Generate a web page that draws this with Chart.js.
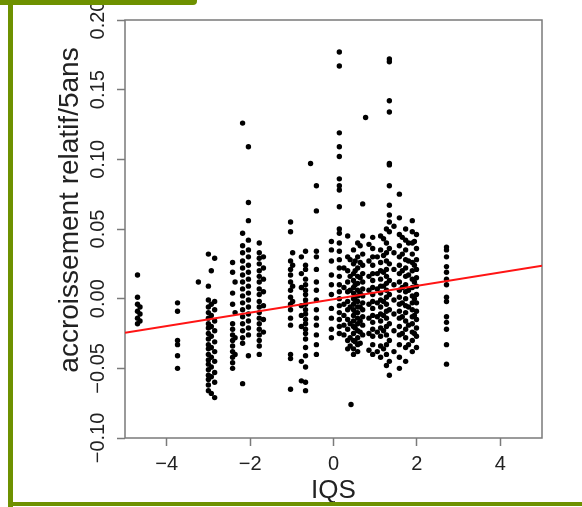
<!DOCTYPE html>
<html lang="fr">

<head>
    <meta charset="UTF-8">
    <title>Accroissement relatif / IQS</title>
    <script src="https://cdn.jsdelivr.net/npm/chart.js"></script>
    <style>
        body {
            margin: 0;
            background: #ffffff;
        }

        .cadre {
            position: relative;
            width: 582px;
            height: 507px;
            overflow: hidden;
        }

        .cadre canvas {
            position: absolute;
            left: 0;
            top: 0;
        }

        .barre-gauche {
            position: absolute;
            left: 8px;
            top: 0;
            width: 5px;
            height: 507px;
            background: #6e9100;
        }

        .barre-haut {
            position: absolute;
            left: 0;
            top: 0;
            width: 197px;
            height: 5px;
            background: #6e9100;
            border-bottom-right-radius: 4px;
        }

        .barre-bas {
            position: absolute;
            left: 8px;
            top: 502px;
            width: 574px;
            height: 4px;
            background: #6e9100;
        }
    </style>
</head>

<body>
    <div class="cadre">
        <canvas id="grafico-iqs" width="582" height="507"></canvas>
        <div class="barre-gauche"></div>
        <div class="barre-haut"></div>
        <div class="barre-bas"></div>
    </div>

<script>
    // colonnes d'IQS et accroissements relatifs
    const colonnesIQS = [
        -4.70, -4.64, -3.74, -3.24, -3.00, -2.93, -2.85, -2.42, -2.36, -2.18,
        -2.04, -1.78, -1.68, -1.03, -0.98, -0.77, -0.67, -0.55, -0.41, -0.05,
        0.14, 0.34, 0.42, 0.48, 0.58, 0.70, 0.77, 0.94, 1.13, 1.27,
        1.34, 1.58, 1.73, 1.89, 1.99, 2.71,
        0.25, 0.40, 0.52, 0.64, 0.85, 1.05, 1.20, 1.45, 1.65, 1.80, 1.94
    ];

    const accroissements = [
        [0.017, 0.001, -0.004, -0.009, -0.014, -0.018],
        [-0.006, -0.011, -0.016],
        [-0.003, -0.009, -0.030, -0.033, -0.041, -0.050],
        [0.012],
        [0.032, 0.009, -0.001, -0.006, -0.010, -0.014, -0.018, -0.021, -0.025, -0.029, -0.033, -0.036, -0.040, -0.044, -0.047, -0.051, -0.055, -0.058, -0.062, -0.066],
        [0.020, -0.004, -0.012, -0.020, -0.027, -0.035, -0.042, -0.049, -0.056, -0.068],
        [0.029, -0.002, -0.008, -0.016, -0.023, -0.031, -0.038, -0.045, -0.053, -0.060, -0.071],
        [0.026, 0.019, 0.004, -0.004, -0.018, -0.022, -0.026, -0.030, -0.034, -0.038, -0.042, -0.046, -0.050],
        [0.012, -0.010, -0.028, -0.040],
        [0.126, 0.047, 0.038, 0.033, 0.027, 0.022, 0.017, 0.012, 0.007, 0.002, -0.003, -0.008, -0.013, -0.018, -0.023, -0.028, -0.032, -0.061],
        [0.109, 0.069, 0.056, 0.042, 0.035, 0.030, 0.024, 0.019, 0.014, 0.009, 0.004, -0.001, -0.006, -0.011, -0.016, -0.021, -0.026, -0.041],
        [0.040, 0.033, 0.029, 0.025, 0.020, 0.016, 0.012, 0.007, 0.003, -0.002, -0.006, -0.010, -0.014, -0.018, -0.022, -0.026, -0.030, -0.034, -0.040],
        [0.030, 0.022, 0.014, 0.005, -0.005, -0.015, -0.024],
        [0.055, 0.048, 0.027, 0.021, 0.017, 0.012, 0.006, 0.001, -0.004, -0.008, -0.014, -0.019, -0.040, -0.043, -0.065],
        [0.033, 0.024, 0.009, -0.002],
        [0.030, 0.018, 0.008, -0.005, -0.012, -0.020, -0.045, -0.059],
        [0.034, 0.024, 0.021, 0.014, 0.010, 0.006, 0.003, -0.001, -0.004, -0.008, -0.011, -0.015, -0.018, -0.022, -0.025, -0.029, -0.035, -0.041, -0.049, -0.060, -0.066],
        [0.097],
        [0.081, 0.063, 0.034, 0.030, 0.021, 0.012, 0.006, -0.001, -0.008, -0.014, -0.019, -0.026, -0.033, -0.040],
        [0.041, 0.035, 0.027, 0.017, 0.010, 0.003, -0.007, -0.014, -0.022, -0.028],
        [0.177, 0.167, 0.119, 0.109, 0.102, 0.086, 0.081, 0.078, 0.066, 0.050, 0.047, 0.040, 0.034, 0.028, 0.022, 0.016, 0.010, 0.005, 0.000, -0.005, -0.010, -0.015, -0.020, -0.025],
        [0.045, 0.030, 0.020, 0.012, 0.005, -0.002, -0.008, -0.015, -0.022, -0.030, -0.036],
        [-0.076],
        [0.035, 0.025, 0.018, 0.013, 0.008, 0.004, 0.000, -0.004, -0.008, -0.012, -0.016, -0.020, -0.025, -0.030, -0.036, -0.040],
        [0.040, 0.030, 0.022, 0.016, 0.011, 0.006, 0.002, -0.002, -0.006, -0.010, -0.014, -0.018, -0.023, -0.028, -0.033, -0.038],
        [0.068, 0.045, 0.032, 0.024, 0.018, 0.012, 0.007, 0.002, -0.003, -0.008, -0.013, -0.019, -0.026],
        [0.130],
        [0.044, 0.036, 0.030, 0.024, 0.018, 0.013, 0.008, 0.003, -0.002, -0.007, -0.012, -0.017, -0.022, -0.027, -0.033, -0.040],
        [0.045, 0.035, 0.026, 0.020, 0.014, 0.009, 0.004, -0.001, -0.006, -0.011, -0.016, -0.021, -0.027, -0.034, -0.042],
        [0.050, 0.040, 0.033, 0.027, 0.021, 0.016, 0.011, 0.006, 0.001, -0.004, -0.009, -0.014, -0.020, -0.026, -0.033, -0.040, -0.048],
        [0.172, 0.170, 0.142, 0.134, 0.097, 0.096, 0.081, 0.067, 0.060, 0.055, 0.048, 0.036, 0.025, 0.013, 0.003, -0.008, -0.018, -0.030, -0.045, -0.055],
        [0.075, 0.058, 0.046, 0.038, 0.030, 0.024, 0.018, 0.012, 0.006, 0.001, -0.004, -0.009, -0.014, -0.020, -0.026, -0.033, -0.042, -0.050],
        [0.050, 0.042, 0.035, 0.028, 0.022, 0.016, 0.010, 0.005, 0.000, -0.005, -0.010, -0.016, -0.022, -0.028, -0.035, -0.045],
        [0.056, 0.048, 0.040, 0.032, 0.026, 0.020, 0.014, 0.008, 0.002, -0.003, -0.008, -0.013, -0.018, -0.024, -0.030, -0.038],
        [0.046, 0.036, 0.028, 0.021, 0.015, 0.009, 0.003, -0.003, -0.009, -0.015, -0.021, -0.027, -0.035],
        [0.037, 0.035, 0.030, 0.023, 0.019, 0.014, 0.010, 0.001, -0.002, -0.013, -0.017, -0.022, -0.033, -0.047],
        [0.022, 0.008, -0.004, -0.012, -0.019, -0.026],
        [0.028, 0.016, 0.006, -0.006, -0.018, -0.028, -0.034],
        [0.027, 0.020, 0.010, -0.001, -0.010, -0.021, -0.031],
        [0.038, 0.026, 0.015, 0.004, -0.006, -0.016, -0.024, -0.032],
        [0.039, 0.027, 0.016, 0.006, -0.004, -0.014, -0.025, -0.037],
        [0.030, 0.018, 0.007, -0.003, -0.013, -0.024, -0.038],
        [0.043, 0.031, 0.019, 0.009, -0.002, -0.012, -0.023, -0.036],
        [0.052, 0.033, 0.021, 0.010, -0.001, -0.011, -0.023, -0.038],
        [0.044, 0.032, 0.020, 0.008, -0.003, -0.013, -0.025],
        [0.040, 0.027, 0.017, 0.006, -0.006, -0.019, -0.033],
        [0.041, 0.024, 0.012, 0.000, -0.012, -0.025]
    ];

    const ticksX = [-4, -2, 0, 2, 4];
    const ticksY = [-0.10, -0.05, 0.00, 0.05, 0.10, 0.15, 0.20];

    // droite de regression (ordonnee a l'origine, pente)
    const ordonneeOrigine = -0.0004;
    const pente = 0.0048;

    const limitesX = [-5, 5];
    const limitesY = [-0.10, 0.20];

    var points = [];
    colonnesIQS.forEach((iqs, i) => {
        accroissements[i].forEach(v => points.push({ x: iqs, y: v }));
    });

    var droite = limitesX.map(x => ({ x: x, y: ordonneeOrigine + pente * x }));

    function formatMoins(v, decimales) {
        if (Math.abs(v) < 1e-9) v = 0;
        return v.toFixed(decimales).replace('-', '\u2212');
    }

    const police = "'Liberation Sans', Arial, sans-serif";

    // cadre du graphique façon R + titre de l'axe y
    const cadrePlugin = {
        id: 'cadre',
        beforeDatasetsDraw(chart) {
            const a = chart.chartArea;
            const ctx = chart.ctx;
            ctx.save();
            ctx.strokeStyle = '#7a7a7a';
            ctx.lineWidth = 1.5;
            ctx.strokeRect(a.left, a.top, a.right - a.left, a.bottom - a.top);

            ctx.translate(70, 210);
            ctx.rotate(-Math.PI / 2);
            ctx.fillStyle = '#222222';
            ctx.font = '28px ' + police;
            ctx.textAlign = 'center';
            ctx.textBaseline = 'middle';
            ctx.fillText('accroissement relatif/5ans', 0, 0);
            ctx.restore();
        }
    };

    var graficoIQS = new Chart(document.getElementById('grafico-iqs'), {
        type: 'scatter',
        data: {
            datasets: [{
                type: 'line',
                data: droite,
                borderColor: '#ff1414',
                borderWidth: 2,
                pointRadius: 0,
                fill: false
            }, {
                data: points,
                backgroundColor: '#000000',
                borderWidth: 0,
                pointRadius: 2.7
            }]
        },
        options: {
            responsive: false,
            animation: false,
            layout: {
                padding: { left: 0, top: 20, right: 40, bottom: 0 }
            },
            plugins: {
                legend: { display: false },
                tooltip: { enabled: false }
            },
            scales: {
                x: {
                    type: 'linear',
                    min: limitesX[0],
                    max: limitesX[1],
                    afterBuildTicks: s => { s.ticks = ticksX.map(v => ({ value: v })); },
                    afterFit: s => { s.height = 69; },
                    border: { display: false },
                    grid: {
                        drawOnChartArea: false,
                        drawTicks: true,
                        tickLength: 8,
                        color: '#7a7a7a',
                        tickWidth: 1.5
                    },
                    ticks: {
                        maxRotation: 0,
                        autoSkip: false,
                        padding: 6,
                        color: '#222222',
                        font: { family: police, size: 20 },
                        callback: v => formatMoins(v, 0)
                    },
                    title: {
                        display: true,
                        text: 'IQS',
                        color: '#222222',
                        font: { family: police, size: 26 },
                        padding: { top: 0, bottom: 1 }
                    }
                },
                y: {
                    type: 'linear',
                    min: limitesY[0],
                    max: limitesY[1],
                    afterBuildTicks: s => { s.ticks = ticksY.map(v => ({ value: v })); },
                    afterFit: s => { s.width = 125; },
                    border: { display: false },
                    grid: {
                        drawOnChartArea: false,
                        drawTicks: true,
                        tickLength: 8,
                        color: '#7a7a7a',
                        tickWidth: 1.5
                    },
                    ticks: {
                        autoSkip: false,
                        minRotation: 90,
                        maxRotation: 90,
                        crossAlign: 'center',
                        padding: -7,
                        color: '#222222',
                        font: { family: police, size: 20 },
                        callback: v => formatMoins(v, 2)
                    },
                    title: { display: false }
                }
            }
        },
        plugins: [cadrePlugin]
    });
</script>
</body>

</html>
